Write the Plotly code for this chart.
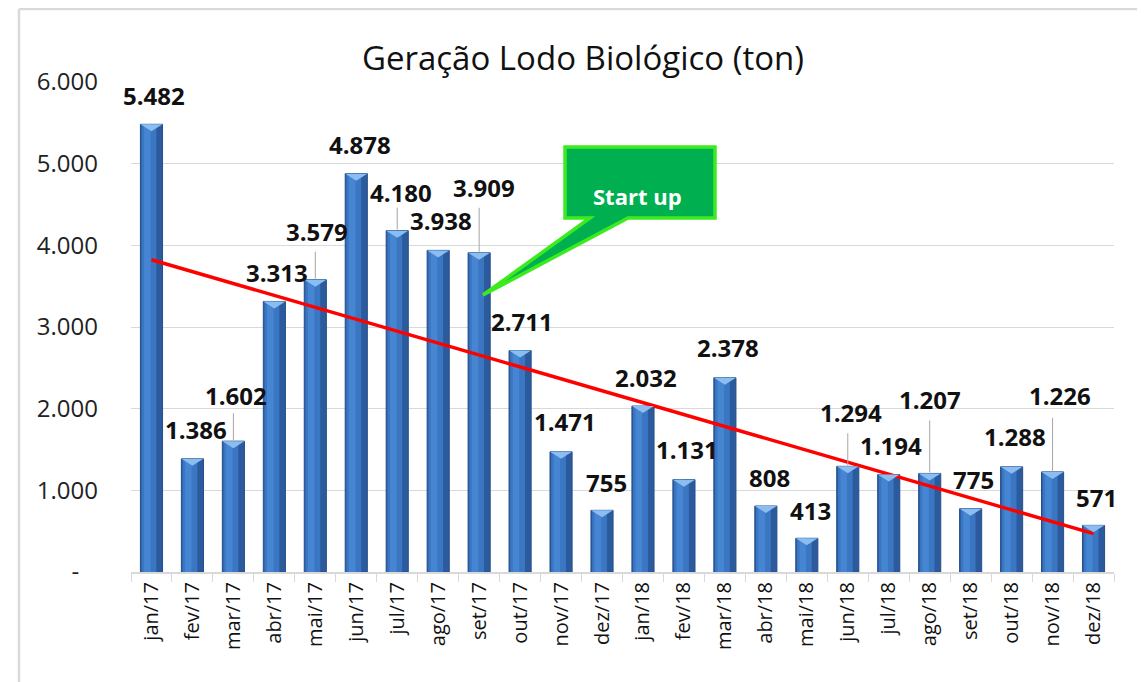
import numpy as np
import plotly.graph_objects as go

months = ["jan/17", "fev/17", "mar/17", "abr/17", "mai/17", "jun/17", "jul/17", "ago/17",
          "set/17", "out/17", "nov/17", "dez/17", "jan/18", "fev/18", "mar/18", "abr/18",
          "mai/18", "jun/18", "jul/18", "ago/18", "set/18", "out/18", "nov/18", "dez/18"]
values = [5482, 1386, 1602, 3313, 3579, 4878, 4180, 3938, 3909, 2711, 1471, 755,
          2032, 1131, 2378, 808, 413, 1294, 1194, 1207, 775, 1288, 1226, 571]
y_tickvals = [0, 1000, 2000, 3000, 4000, 5000, 6000]
y_ticktext = ["-\u00a0\u00a0\u00a0", "1.000", "2.000", "3.000", "4.000", "5.000", "6.000"]
title_text = "Geração Lodo Biológico (ton)"
callout_text = "Start up"

# label styling offsets (pixels) and leader line lengths (pixels)
label_dy = [29, 29, 46, 29, 48, 29, 38, 30, 65, 29, 30, 28,
            29, 30, 30, 29, 28, 54, 29, 74, 29, 30, 76, 28]
label_dx = [3, 4, 3, 3, 2, 4, 4, 3, 5, 2, 4, 4, 3, 3, 3, 4, 4, 3, 2, 0, 3, 3, 7, 3]
leader_len = [0, 0, 28, 0, 28, 0, 23, 0, 45, 0, 0, 0,
              0, 0, 0, 0, 0, 33, 0, 53, 0, 0, 54, 0]

OFF = 8  # page body margin
W, H = 1145 - OFF, 682 - OFF
ML, MR, MT, MB = 131 - OFF, 31, 82 - OFF, 110
PW, PH = W - ML - MR, H - MT - MB


def px2paper(px, py):
    # px, py in screenshot coordinates
    return (px - OFF - ML) / PW, (H - MB - (py - OFF)) / PH


FONT = "Open Sans"

fig = go.Figure()
fig.add_trace(go.Bar(x=months, y=values, width=0.54,
                     marker=dict(color="#2C5B9D", line=dict(color="#244F8C", width=1)),
                     hoverinfo="skip", showlegend=False))
fig.add_trace(go.Bar(x=months, y=values, width=0.36, offset=-0.24,
                     marker=dict(color="#3B76C2", line=dict(width=0)), hoverinfo="skip", showlegend=False))
fig.add_trace(go.Bar(x=months, y=values, width=0.16, offset=-0.18,
                     marker=dict(color="#4585D2", line=dict(width=0)), hoverinfo="skip", showlegend=False))

idx = np.arange(len(values))
coef = np.polyfit(idx, values, 1)
trend = np.polyval(coef, idx)
fig.add_trace(go.Scatter(x=months, y=trend, mode="lines", line=dict(color="#FF0000", width=3.5),
                         hoverinfo="skip", showlegend=False))

shapes = []
annotations = []
for i, (m, v) in enumerate(zip(months, values)):
    shapes.append(dict(type="path", xref="x", yref="y", xsizemode="pixel", ysizemode="pixel",
                       xanchor=m, yanchor=v, path="M -11,0 L 11,0 L 0,-7 Z",
                       fillcolor="#8CBDF0", line=dict(width=0), layer="above"))
    if leader_len[i]:
        shapes.append(dict(type="line", xref="x", yref="y", ysizemode="pixel", yanchor=v,
                           x0=m, x1=m, y0=1, y1=leader_len[i],
                           line=dict(color="#A6A6A6", width=1), layer="above"))
    annotations.append(dict(x=m, y=v, xref="x", yref="y", text=f"{v:,}".replace(",", "."),
                            showarrow=False, yanchor="middle", xanchor="center",
                            yshift=label_dy[i], xshift=label_dx[i],
                            font=dict(family=FONT, size=24, color="#111111", weight="bold")))

pts = [(565, 147), (715, 147), (715, 218), (628, 218), (483, 295), (590, 218), (565, 218)]
pp = [px2paper(x, y) for x, y in pts]
path = "M " + " L ".join(f"{a:.5f},{b:.5f}" for a, b in pp) + " Z"
shapes.append(dict(type="path", xref="paper", yref="paper", path=path, fillcolor="#00B050",
                   line=dict(color="#3CEB1E", width=3.5), layer="above"))
cx, cy = px2paper(637, 179)
annotations.append(dict(x=cx, y=cy, xref="paper", yref="paper", text=callout_text, showarrow=False,
                        font=dict(family=FONT, size=22, color="white", weight="bold")))

bx0, by0 = px2paper(19, 9)
bx1, by1 = px2paper(1145, 682)
shapes.append(dict(type="line", xref="paper", yref="paper", x0=bx0, x1=bx1 + 0.01, y0=by0, y1=by0,
                   line=dict(color="#D9D9D9", width=2.5), layer="below"))
shapes.append(dict(type="line", xref="paper", yref="paper", x0=bx0, x1=bx0, y0=by0, y1=by1 - 0.01,
                   line=dict(color="#D9D9D9", width=2.5), layer="below"))

fig.update_layout(
    width=W, height=H,
    margin=dict(l=ML, r=MR, t=MT, b=MB),
    paper_bgcolor="white", plot_bgcolor="white",
    barmode="overlay",
    title=dict(text=title_text, x=(583 - OFF) / W, xref="container", y=1 - (58 - OFF) / H, yref="container",
               xanchor="center", yanchor="middle",
               font=dict(family=FONT, size=33, color="#111111")),
    xaxis=dict(type="category", tickangle=-90, showgrid=False,
               showline=True, linecolor="#D9D9D9", linewidth=2,
               ticks="outside", tickson="boundaries", ticklen=8, tickcolor="#D9D9D9", tickwidth=1,
               tickfont=dict(family=FONT, size=20, color="#111111"), range=[-0.5, 23.5]),
    yaxis=dict(range=[0, 6000], tickvals=y_tickvals, ticktext=y_ticktext,
               showgrid=True, gridcolor="#D9D9D9", gridwidth=1, zeroline=False, showline=False,
               ticks="", ticklabelstandoff=32,
               tickfont=dict(family=FONT, size=24, color="#222222")),
    shapes=shapes, annotations=annotations,
)

fig.write_html("out.html")
